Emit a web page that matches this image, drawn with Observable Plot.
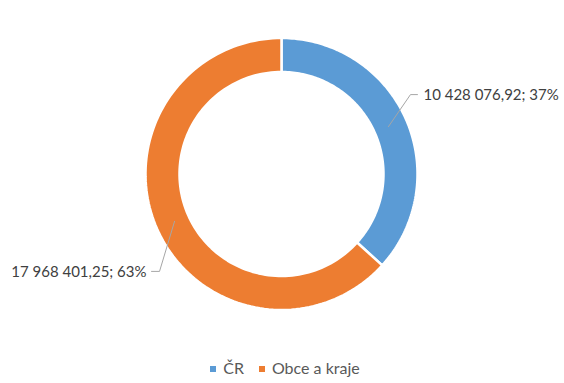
<!DOCTYPE html>
<html><head><meta charset="utf-8">
<script src="https://cdn.jsdelivr.net/npm/d3@7"></script>
<script src="https://cdn.jsdelivr.net/npm/@observablehq/plot@0.6"></script>
<style>
body{margin:0;background:#fff;font-family:Lato,"Open Sans",sans-serif;}
#legend{height:31px;display:flex;justify-content:center;align-items:center;gap:15px;font-size:16px;color:#595959;padding-left:6px;box-sizing:border-box}
#legend span.sw{display:inline-block;width:6px;height:6px;margin-right:7px;vertical-align:middle;position:relative;top:-1px}
</style></head>
<body><div id="chart"></div><div id="legend"></div>
<script>
const categories = ["ČR", "Obce a kraje"];
const values = [10428076.92, 17968401.25];
const percentLabels = ["37%", "63%"];
const valueLabels = ["10 428 076,92", "17 968 401,25"];
const colors = ["#5B9BD5", "#ED7D31"];

const W = 564, H = 352;
const cx = 281, cy = 173.5, rOuter = 136, rInner = 102, rLabel = 117;
// leader offsets (style)
const elbow = [[22, -32], [-15, 50]];
const tail = [7, -8];

const pie = d3.pie().sort(null).value(d => d.value)(categories.map((c, i) => ({cat: c, value: values[i], i})));

const ring = [];
pie.forEach(s => {
  const n = 120;
  for (let k = 0; k <= n; k++) {
    const a = s.startAngle + (s.endAngle - s.startAngle) * k / n;
    ring.push({cat: s.data.cat, x: cx + rOuter * Math.sin(a), y: cy - rOuter * Math.cos(a)});
  }
  for (let k = n; k >= 0; k--) {
    const a = s.startAngle + (s.endAngle - s.startAngle) * k / n;
    ring.push({cat: s.data.cat, x: cx + rInner * Math.sin(a), y: cy - rInner * Math.cos(a)});
  }
});

const leaders = [], labels = [];
pie.forEach((s, i) => {
  const a = (s.startAngle + s.endAngle) / 2;
  const p0 = [cx + rLabel * Math.sin(a), cy - rLabel * Math.cos(a)];
  const p1 = [p0[0] + elbow[i][0], p0[1] + elbow[i][1]];
  const p2 = [p1[0] + tail[i], p1[1]];
  [p0, p1, p2].forEach(p => leaders.push({cat: s.data.cat, x: p[0], y: p[1]}));
  labels.push({x: p2[0] + (tail[i] > 0 ? 6 : -5), y: p2[1] + 1, text: valueLabels[i] + "; " + percentLabels[i], anchor: tail[i] > 0 ? "start" : "end"});
});

const chart = Plot.plot({
  width: W, height: H, margin: 0,
  x: {domain: [0, W], range: [0, W], axis: null},
  y: {domain: [0, H], range: [0, H], axis: null},
  color: {domain: categories, range: colors},
  style: {fontFamily: "Lato, 'Open Sans', sans-serif", background: "#fff"},
  marks: [
    Plot.line(ring, {x: "x", y: "y", z: "cat", fill: "cat", stroke: "#fff", strokeWidth: 2.5, strokeLinejoin: "miter", curve: "linear-closed"}),
    Plot.line(leaders, {x: "x", y: "y", z: "cat", stroke: "#a6a6a6", strokeWidth: 1}),
    Plot.text(labels.filter(d => d.anchor === "start"), {x: "x", y: "y", text: "text", textAnchor: "start", fontSize: 15, fill: "#404040"}),
    Plot.text(labels.filter(d => d.anchor === "end"), {x: "x", y: "y", text: "text", textAnchor: "end", fontSize: 15, fill: "#404040"})
  ]
});
document.getElementById("chart").appendChild(chart);

const leg = document.getElementById("legend");
categories.forEach((c, i) => {
  const item = document.createElement("div");
  item.innerHTML = `<span class="sw" style="background:${colors[i]}"></span>${c}`;
  leg.appendChild(item);
});
</script></body></html>
